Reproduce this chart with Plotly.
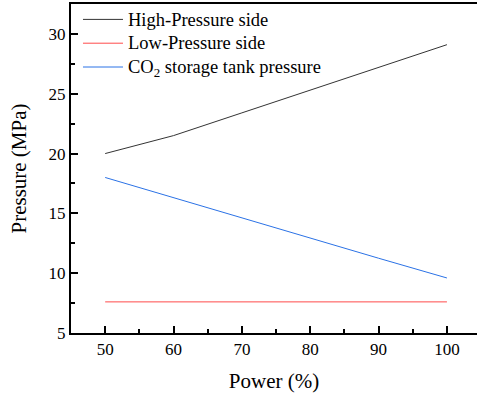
import plotly.graph_objects as go

power = [50, 60, 70, 80, 90, 100]
high_p = [20.0, 21.5, 23.4, 25.3, 27.2, 29.1]
low_p = [7.6, 7.6, 7.6, 7.6, 7.6, 7.6]
tank_p = [18.0, 16.3, 14.6, 12.95, 11.25, 9.6]

names = ["High-Pressure side", "Low-Pressure side", "CO<sub>2</sub> storage tank pressure"]
colors = ["#333333", "#FF4A4A", "#2B72E6"]

fig = go.Figure()
for name, ys, c in zip(names, [high_p, low_p, tank_p], colors):
    fig.add_trace(go.Scatter(x=power, y=ys, mode="lines",
                             name='<span style="font-size:18.5px">' + name + '</span>',
                             line=dict(color=c, width=1)))

font = "Liberation Serif"
plot_top, plot_bottom = 4, 333
def py(pix):
    return (plot_bottom - pix) / (plot_bottom - plot_top)

fig.update_layout(
    width=478, height=398,
    margin=dict(l=71, r=1, t=4, b=65, autoexpand=False),
    plot_bgcolor="white", paper_bgcolor="white",
    font=dict(family=font, size=17, color="black"),
    showlegend=True,
    legend=dict(x=0.01724, y=py(2.5), xanchor="left", yanchor="top", itemwidth=40,
                bgcolor="rgba(0,0,0,0)", borderwidth=0, tracegroupgap=0,
                font=dict(size=16, family=font, color="black")),
    xaxis=dict(range=[45, 104.4], tickvals=[50, 60, 70, 80, 90, 100],
               ticks="inside", ticklen=7, tickwidth=2, tickcolor="black",
               minor=dict(ticks="inside", ticklen=4, tickwidth=2, dtick=5, tickcolor="black"),
               showline=True, linewidth=2, linecolor="black", mirror=True,
               showgrid=False, zeroline=False, automargin=False,
               title=dict(text="Power (%)", font=dict(size=21, family=font, color="black"), standoff=15),
               tickfont=dict(size=17, family=font, color="black")),
    yaxis=dict(range=[5, 32.5], tickvals=[5, 10, 15, 20, 25, 30],
               ticks="inside", ticklen=7, tickwidth=2, tickcolor="black",
               minor=dict(ticks="inside", ticklen=4, tickwidth=2, dtick=2.5, tickcolor="black"),
               showline=True, linewidth=2, linecolor="black", mirror=False,
               showgrid=False, zeroline=False, automargin=False,
               title=dict(text="Pressure (MPa)", font=dict(size=21, family=font, color="black"), standoff=16),
               tickfont=dict(size=17, family=font, color="black")),
)
fig.write_html("out.html", config={"displayModeBar": False},
               post_script="document.body.style.margin='0';")
